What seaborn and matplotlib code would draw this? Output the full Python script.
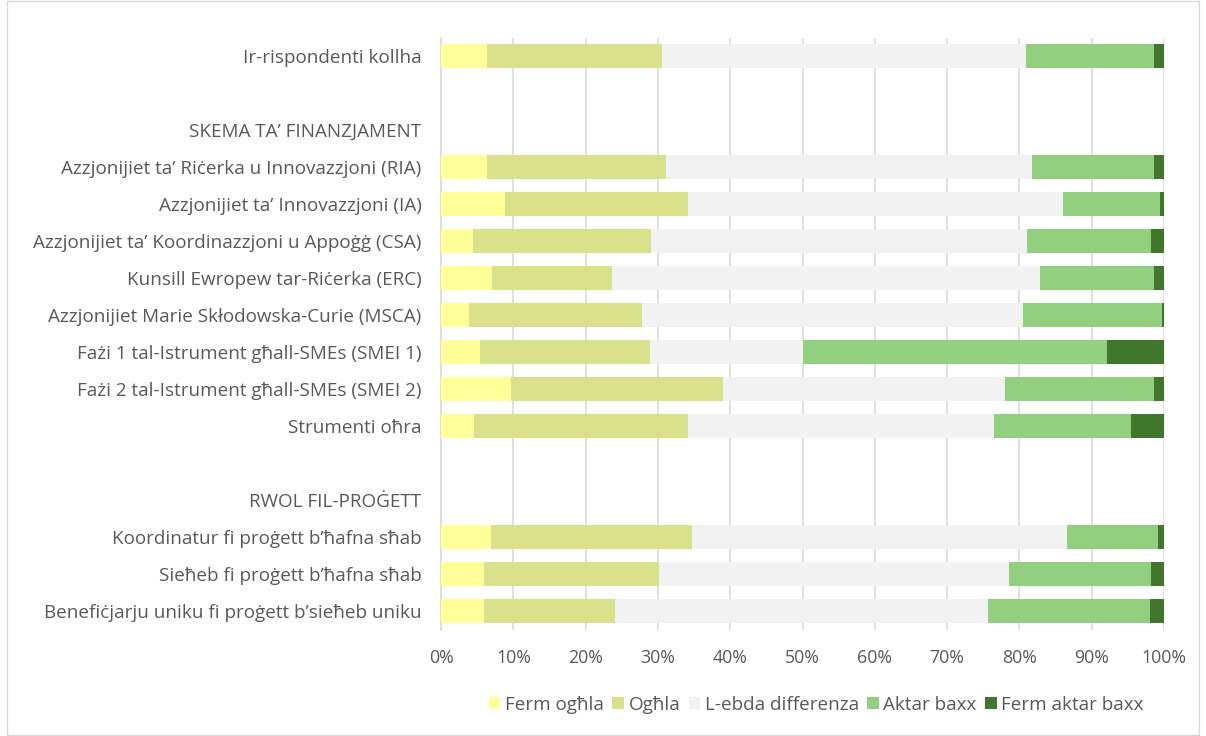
import matplotlib
matplotlib.use("Agg")
import matplotlib.pyplot as plt
import seaborn as sns
import pandas as pd
import numpy as np
from matplotlib.patches import Patch, Rectangle

categories = [
    "Ir-rispondenti kollha",
    " ",
    "SKEMA TA’ FINANZJAMENT",
    "Azzjonijiet ta’ Riċerka u Innovazzjoni (RIA)",
    "Azzjonijiet ta’ Innovazzjoni (IA)",
    "Azzjonijiet ta’ Koordinazzjoni u Appoġġ (CSA)",
    "Kunsill Ewropew tar-Riċerka (ERC)",
    "Azzjonijiet Marie Skłodowska-Curie (MSCA)",
    "Fażi 1 tal-Istrument għall-SMEs (SMEI 1)",
    "Fażi 2 tal-Istrument għall-SMEs (SMEI 2)",
    "Strumenti oħra",
    "  ",
    "RWOL FIL-PROĠETT",
    "Koordinatur fi proġett b’ħafna sħab",
    "Sieħeb fi proġett b’ħafna sħab",
    "Benefiċjarju uniku fi proġett b’sieħeb uniku",
]

series_names = ["Ferm ogħla", "Ogħla", "L-ebda differenza", "Aktar baxx", "Ferm aktar baxx"]

ferm_oghla = [6.4, 0, 0, 6.4, 8.9, 4.4, 7.1, 3.9, 5.4, 9.7, 4.6, 0, 0, 6.9, 5.9, 5.9]
oghla      = [24.2, 0, 0, 24.7, 25.2, 24.7, 16.6, 23.9, 23.5, 29.3, 29.5, 0, 0, 27.8, 24.2, 18.1]
l_ebda     = [50.3, 0, 0, 50.7, 51.9, 51.9, 59.1, 52.7, 21.1, 39.0, 42.4, 0, 0, 51.9, 48.4, 51.7]
aktar      = [17.7, 0, 0, 16.8, 13.5, 17.2, 15.8, 19.2, 42.1, 20.6, 18.9, 0, 0, 12.6, 19.7, 22.3]
ferm_aktar = [1.4, 0, 0, 1.4, 0.5, 1.8, 1.4, 0.3, 7.9, 1.4, 4.6, 0, 0, 0.8, 1.8, 2.0]

colors = ["#FFFF99", "#D9E18A", "#F2F2F2", "#92D07F", "#41772C"]

series = [ferm_oghla, oghla, l_ebda, aktar, ferm_aktar]
df = pd.DataFrame({"category": categories})
cum = np.zeros(len(categories))
for name, vals in zip(series_names, series):
    cum = cum + np.array(vals)
    df[name] = cum

sns.set_theme(style="white")
plt.rcParams["font.family"] = ["Open Sans", "DejaVu Sans"]

fig = plt.figure(figsize=(12.06, 7.36), dpi=100)
ax = fig.add_axes([441 / 1206, 1 - 629.5 / 736, (1164 - 441) / 1206, (629.5 - 37.5) / 736])

for name, col in reversed(list(zip(series_names, colors))):
    sns.barplot(data=df, y="category", x=name, order=categories, color=col,
                orient="h", width=0.65, linewidth=0, saturation=1, ax=ax, zorder=3)

ax.set_xlim(0, 100)
ax.set_ylim(len(categories) - 0.5, -0.5)
ax.set_xticks(np.arange(0, 101, 10))
ax.set_xticklabels([f"{v}%" for v in range(0, 101, 10)])
ax.xaxis.grid(True, color="#D9D9D9", linewidth=1.2, zorder=0)
ax.set_axisbelow(True)
ax.set_xlabel("")
ax.set_ylabel("")
for s in ["top", "right", "bottom"]:
    ax.spines[s].set_visible(False)
ax.spines["left"].set_color("#D9D9D9")
ax.spines["left"].set_linewidth(1.2)
ax.tick_params(axis="both", length=0, colors="#595959")
ax.tick_params(axis="x", pad=14, labelsize=12.8)
ax.tick_params(axis="y", pad=14, labelsize=13.6)

handles = [Patch(facecolor=c, edgecolor="none", label=n) for n, c in zip(series_names, colors)]
fig.legend(handles=handles, loc="center", bbox_to_anchor=(0.677, 1 - 705 / 736), ncol=5,
           frameon=False, fontsize=13.6, labelcolor="#595959", handlelength=0.6,
           handleheight=0.6, handletextpad=0.25, columnspacing=0.45)

fig.patches.append(Rectangle((7 / 1206, 0.002), 1 - 14 / 1206, 0.996, transform=fig.transFigure,
                             fill=False, edgecolor="#D9D9D9", linewidth=1))

fig.savefig("out.png", dpi=100, facecolor="white")
